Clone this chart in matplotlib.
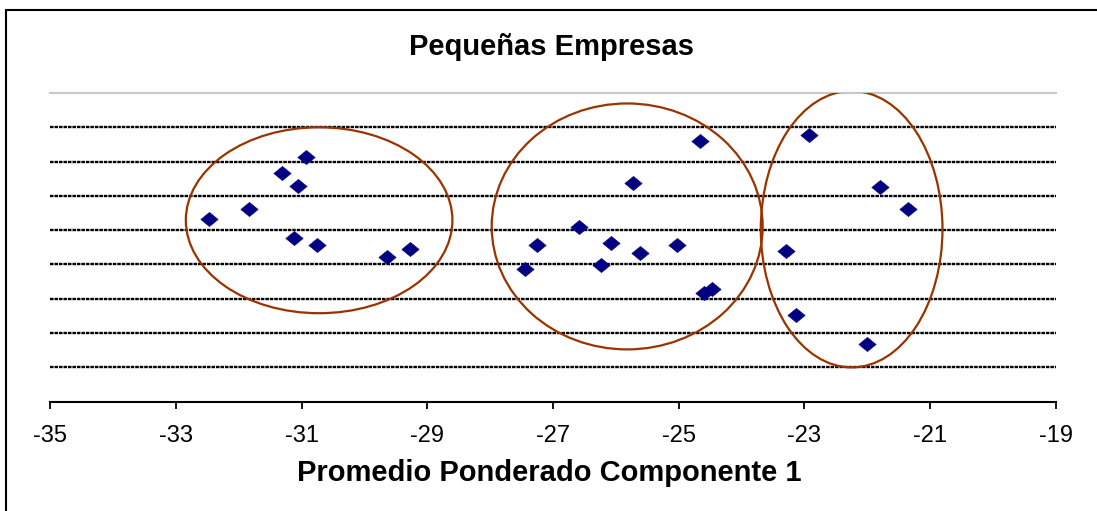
import matplotlib
matplotlib.use('Agg')
from matplotlib import pyplot as plt
from matplotlib.patches import Ellipse, Rectangle

plt.rc('font', family=['Liberation Sans', 'DejaVu Sans'])

# puntos (componente 1, componente 2)
comp1 = [-32.47, -31.83, -31.31, -30.93, -31.05, -31.12, -30.75, -29.64, -29.27,
         -27.45, -27.25, -26.59, -26.24, -26.08, -25.73, -25.61, -25.02, -24.66, -24.60, -24.47,
         -22.93, -21.80, -21.36, -23.30, -23.13, -22.01]
comp2 = [5.32, 5.61, 6.66, 7.13, 6.30, 4.76, 4.56, 4.21, 4.46,
         3.86, 4.56, 5.08, 3.98, 4.62, 6.37, 4.33, 4.57, 7.60, 3.18, 3.29,
         7.77, 6.27, 5.61, 4.38, 2.52, 1.69]

# grupos marcados con elipses: centro x, centro y, ancho, alto
grupo_x = [-30.72, -25.82, -22.25]
grupo_y = [5.29, 5.11, 5.03]
grupo_w = [4.24, 4.31, 2.89]
grupo_h = [5.42, 7.17, 8.06]

xticks = list(range(-35, -18, 2))

fig = plt.figure(figsize=(10.97, 5.11), dpi=100)
ax = fig.add_axes([0.0456, 0.2139, 0.9170, 0.6041])

# rombo un poco achatado como en Excel
rombo = [(-1, 0), (0, 0.82), (1, 0), (0, -0.82), (-1, 0)]
ax.plot(comp1, comp2, linestyle='none', marker=rombo, markersize=12.5,
        color='#000080', markeredgewidth=0.4, zorder=3)

for cx, cy, w, h in zip(grupo_x, grupo_y, grupo_w, grupo_h):
    ax.add_patch(Ellipse((cx, cy), w, h, fill=False, edgecolor='#993300', linewidth=1.6, zorder=4))

ax.set_xlim(-35, -19)
ax.set_ylim(0, 9)
ax.set_xticks(xticks)
ax.set_xticklabels([str(t) for t in xticks], fontsize=17)
ax.set_yticks(range(1, 9))
ax.tick_params(axis='x', direction='out', length=5, width=1.3, pad=12)
ax.tick_params(axis='y', left=False, labelleft=False)
ax.yaxis.grid(True, color='black', linestyle=(0, (1.5, 0.4)), linewidth=1.7)
ax.set_axisbelow(True)

for s in ['left', 'right']:
    ax.spines[s].set_visible(False)
ax.spines['bottom'].set_linewidth(1.5)
ax.spines['top'].set_color('#c8c8c8')
ax.spines['top'].set_linestyle((0, (1.2, 0.8)))
ax.spines['top'].set_linewidth(1.5)

fig.text(0.5027, 0.909, 'Pequeñas Empresas', ha='center', va='center',
         fontsize=21, fontweight='bold')
fig.text(0.501, 0.074, 'Promedio Ponderado Componente 1', ha='center', va='center',
         fontsize=21, fontweight='bold')

# borde del area del grafico (cortado a la derecha y abajo)
fig.patches.append(Rectangle((0.0055, -0.1), 1.2, 0.9814 + 0.1, transform=fig.transFigure,
                             fill=False, edgecolor='black', linewidth=1.5))

plt.savefig('out.png', dpi=100)
